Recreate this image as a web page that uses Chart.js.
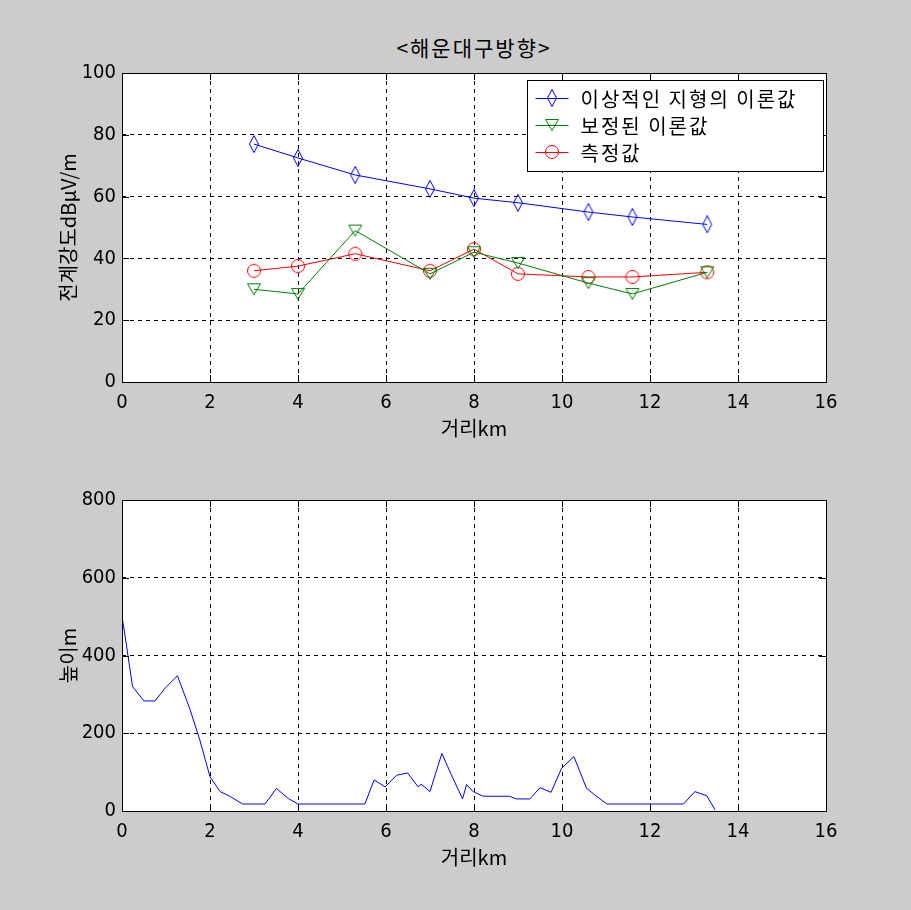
<!DOCTYPE html>
<html>
<head>
<meta charset="utf-8">
<script src="https://cdn.jsdelivr.net/npm/chart.js@4/dist/chart.umd.min.js"></script>
<style>
  body { margin:0; background:#cccccc; }
  #wrap { position:relative; width:911px; height:910px; background:#cccccc; overflow:hidden; }
  #title { position:absolute; left:0; width:948px; top:32px; text-align:center; line-height:30px;
           font:21px "Noto Sans CJK KR", sans-serif; letter-spacing:2px; color:#000; }
  canvas { position:absolute; left:0; }
</style>
</head>
<body>
<div id="wrap">
  <div id="title">&lt;해운대구방향&gt;</div>
  <canvas id="chartTop" width="911" height="455" style="top:0"></canvas>
  <canvas id="chartBottom" width="911" height="455" style="top:455px"></canvas>
</div>
<script>
// top plot: field strength vs distance
var distKm = [3, 4, 5.3, 7, 8, 9, 10.6, 11.6, 13.3];
var idealTheory = [77, 72.5, 67, 62.5, 59.5, 58, 55, 53.4, 51];
var correctedTheory = [30, 28.5, 49, 35, 42, 38.5, 32, 28.5, 35.5];
var measured = [36, 37.5, 41.5, 36, 43, 35, 34, 34, 35.5];
var seriesNames = ['이상적인 지형의 이론값', '보정된 이론값', '측정값'];

// bottom plot: terrain profile
var profileDist = [0, 0.05, 0.24, 0.5, 0.75, 0.98, 1.26, 1.55, 1.77, 2.0, 2.23, 2.45, 2.74, 3.25, 3.51, 3.78, 4.0,
  5.52, 5.73, 5.98, 6.24, 6.49, 6.73, 6.8, 7.0, 7.27, 7.49, 7.74, 7.83, 7.98, 8.21, 8.8, 8.97, 9.27, 9.5, 9.75,
  9.99, 10.27, 10.56, 10.75, 11.02, 12.76, 13.02, 13.29, 13.48];
var profileHeight = [500, 465, 320, 283, 283, 316, 348, 260, 182, 88, 50, 38, 18, 18, 58, 32, 18,
  18, 80, 62, 92, 98, 62, 69, 50, 148, 92, 31, 68, 50, 38, 38, 31, 31, 60, 48,
  110, 140, 58, 41, 18, 18, 50, 39, 3];

var xTicks = [0, 2, 4, 6, 8, 10, 12, 14, 16];

var tickFont = { family: '"DejaVu Sans Condensed", "Liberation Sans", sans-serif', size: 20 };
var korFont = { family: '"Noto Sans CJK KR", sans-serif', size: 20 };

function pts(xs, ys) {
  return xs.map(function (x, i) { return { x: x, y: ys[i] }; });
}

// hollow matlab-ish markers
function makeMarker(shape, color) {
  var c = document.createElement('canvas');
  c.width = 18; c.height = 18;
  var g = c.getContext('2d');
  g.strokeStyle = color;
  g.lineWidth = 1;
  g.beginPath();
  if (shape == 'diamond') {
    g.moveTo(9, 0.5); g.lineTo(13.5, 9); g.lineTo(9, 17.5); g.lineTo(4.5, 9); g.closePath();
  } else if (shape == 'tri') {
    g.moveTo(2.5, 3.5); g.lineTo(15.5, 3.5); g.lineTo(9, 14.5); g.closePath();
  } else {
    g.arc(9, 9, 6.5, 0, Math.PI * 2);
  }
  g.stroke();
  return c;
}
var markers = [makeMarker('diamond', '#0000ff'), makeMarker('tri', '#008000'), makeMarker('circle', '#ff0000')];
var colors = ['#0000ff', '#008000', '#ff0000'];

// white axes box, solid frame and inward ticks
var matlabFrame = {
  id: 'matlabFrame',
  beforeDraw: function (chart) {
    var a = chart.chartArea, ctx = chart.ctx;
    ctx.save();
    ctx.fillStyle = '#ffffff';
    ctx.fillRect(a.left, a.top, a.right - a.left, a.bottom - a.top);
    ctx.restore();
  },
  afterDraw: function (chart) {
    var a = chart.chartArea, ctx = chart.ctx;
    var xs = chart.scales.x, ys = chart.scales.y;
    ctx.save();
    ctx.strokeStyle = '#000';
    ctx.lineWidth = 1;
    ctx.setLineDash([]);
    ctx.beginPath();
    xs.ticks.forEach(function (t) {
      var px = Math.round(xs.getPixelForValue(t.value)) + 0.5;
      ctx.moveTo(px, a.bottom); ctx.lineTo(px, a.bottom - 7);
      ctx.moveTo(px, a.top); ctx.lineTo(px, a.top + 7);
    });
    ys.ticks.forEach(function (t) {
      var py = Math.round(ys.getPixelForValue(t.value)) + 0.5;
      ctx.moveTo(a.left, py); ctx.lineTo(a.left + 7, py);
      ctx.moveTo(a.right, py); ctx.lineTo(a.right - 7, py);
    });
    ctx.stroke();
    ctx.strokeRect(Math.round(a.left) + 0.5, Math.round(a.top) + 0.5,
      Math.round(a.right - a.left), Math.round(a.bottom - a.top));
    ctx.restore();
  }
};

// legend box inside the axes, upper right
var boxLegend = {
  id: 'boxLegend',
  afterDraw: function (chart) {
    var a = chart.chartArea, ctx = chart.ctx;
    var w = 296, h = 91;
    var x0 = Math.round(a.right - 3 - w) + 0.5, y0 = Math.round(a.top + 7) + 0.5;
    ctx.save();
    ctx.fillStyle = '#fff';
    ctx.fillRect(x0, y0, w, h);
    ctx.strokeStyle = '#000';
    ctx.lineWidth = 1;
    ctx.strokeRect(x0, y0, w, h);
    chart.data.datasets.forEach(function (ds, i) {
      var cy = Math.round(y0 + 17 + i * 27);
      ctx.strokeStyle = ds.borderColor;
      ctx.beginPath();
      ctx.moveTo(x0 + 8, cy + 0.5); ctx.lineTo(x0 + 41, cy + 0.5);
      ctx.stroke();
      ctx.drawImage(markers[i], Math.round(x0 + 24.5 - 9), cy - 9);
      ctx.fillStyle = '#000';
      ctx.font = korFont.size + 'px ' + korFont.family;
      if ('letterSpacing' in ctx) ctx.letterSpacing = '2px';
      ctx.textBaseline = 'middle';
      ctx.fillText(ds.label, x0 + 53, cy + 1);
    });
    ctx.restore();
  }
};

function xScale() {
  return {
    type: 'linear', min: 0, max: 16,
    afterBuildTicks: function (s) { s.ticks = xTicks.map(function (v) { return { value: v }; }); },
    afterFit: function (s) { s.height = 60; },
    grid: { color: '#000', drawTicks: false, lineWidth: 1 },
    border: { display: false, dash: [4, 4] },
    ticks: { color: '#000', font: tickFont, padding: 9, maxRotation: 0 },
    title: { display: true, text: '거리km', color: '#000', font: korFont, padding: { top: 0, bottom: 2 } }
  };
}
function yScale(max, step, label) {
  return {
    type: 'linear', min: 0, max: max,
    afterFit: function (s) { s.width = 122; },
    grid: { color: '#000', drawTicks: false, lineWidth: 1 },
    border: { display: false, dash: [4, 4] },
    ticks: { color: '#000', font: tickFont, padding: 6, stepSize: step },
    title: { display: true, text: label, color: '#000', font: korFont, padding: { top: 56, bottom: 0 } }
  };
}

new Chart('chartTop', {
  type: 'line',
  data: {
    datasets: [idealTheory, correctedTheory, measured].map(function (vals, i) {
      return {
        label: seriesNames[i],
        data: pts(distKm, vals),
        borderColor: colors[i],
        borderWidth: 1,
        pointStyle: markers[i],
        pointRadius: 9,
        pointHoverRadius: 9,
        fill: false,
        tension: 0
      };
    })
  },
  options: {
    responsive: false,
    animation: false,
    layout: { padding: { top: 73, left: 0, right: 85, bottom: 13 } },
    plugins: { legend: { display: false }, tooltip: { enabled: false } },
    scales: { x: xScale(), y: yScale(100, 20, '전계강도dBμV/m') }
  },
  plugins: [matlabFrame, boxLegend]
});

new Chart('chartBottom', {
  type: 'line',
  data: {
    datasets: [{
      data: pts(profileDist, profileHeight),
      borderColor: '#0000ff',
      borderWidth: 1,
      pointRadius: 0,
      fill: false,
      tension: 0
    }]
  },
  options: {
    responsive: false,
    animation: false,
    layout: { padding: { top: 45, left: 0, right: 85, bottom: 39 } },
    plugins: { legend: { display: false }, tooltip: { enabled: false } },
    scales: { x: xScale(), y: yScale(800, 200, '높이m') }
  },
  plugins: [matlabFrame]
});
</script>
</body>
</html>
